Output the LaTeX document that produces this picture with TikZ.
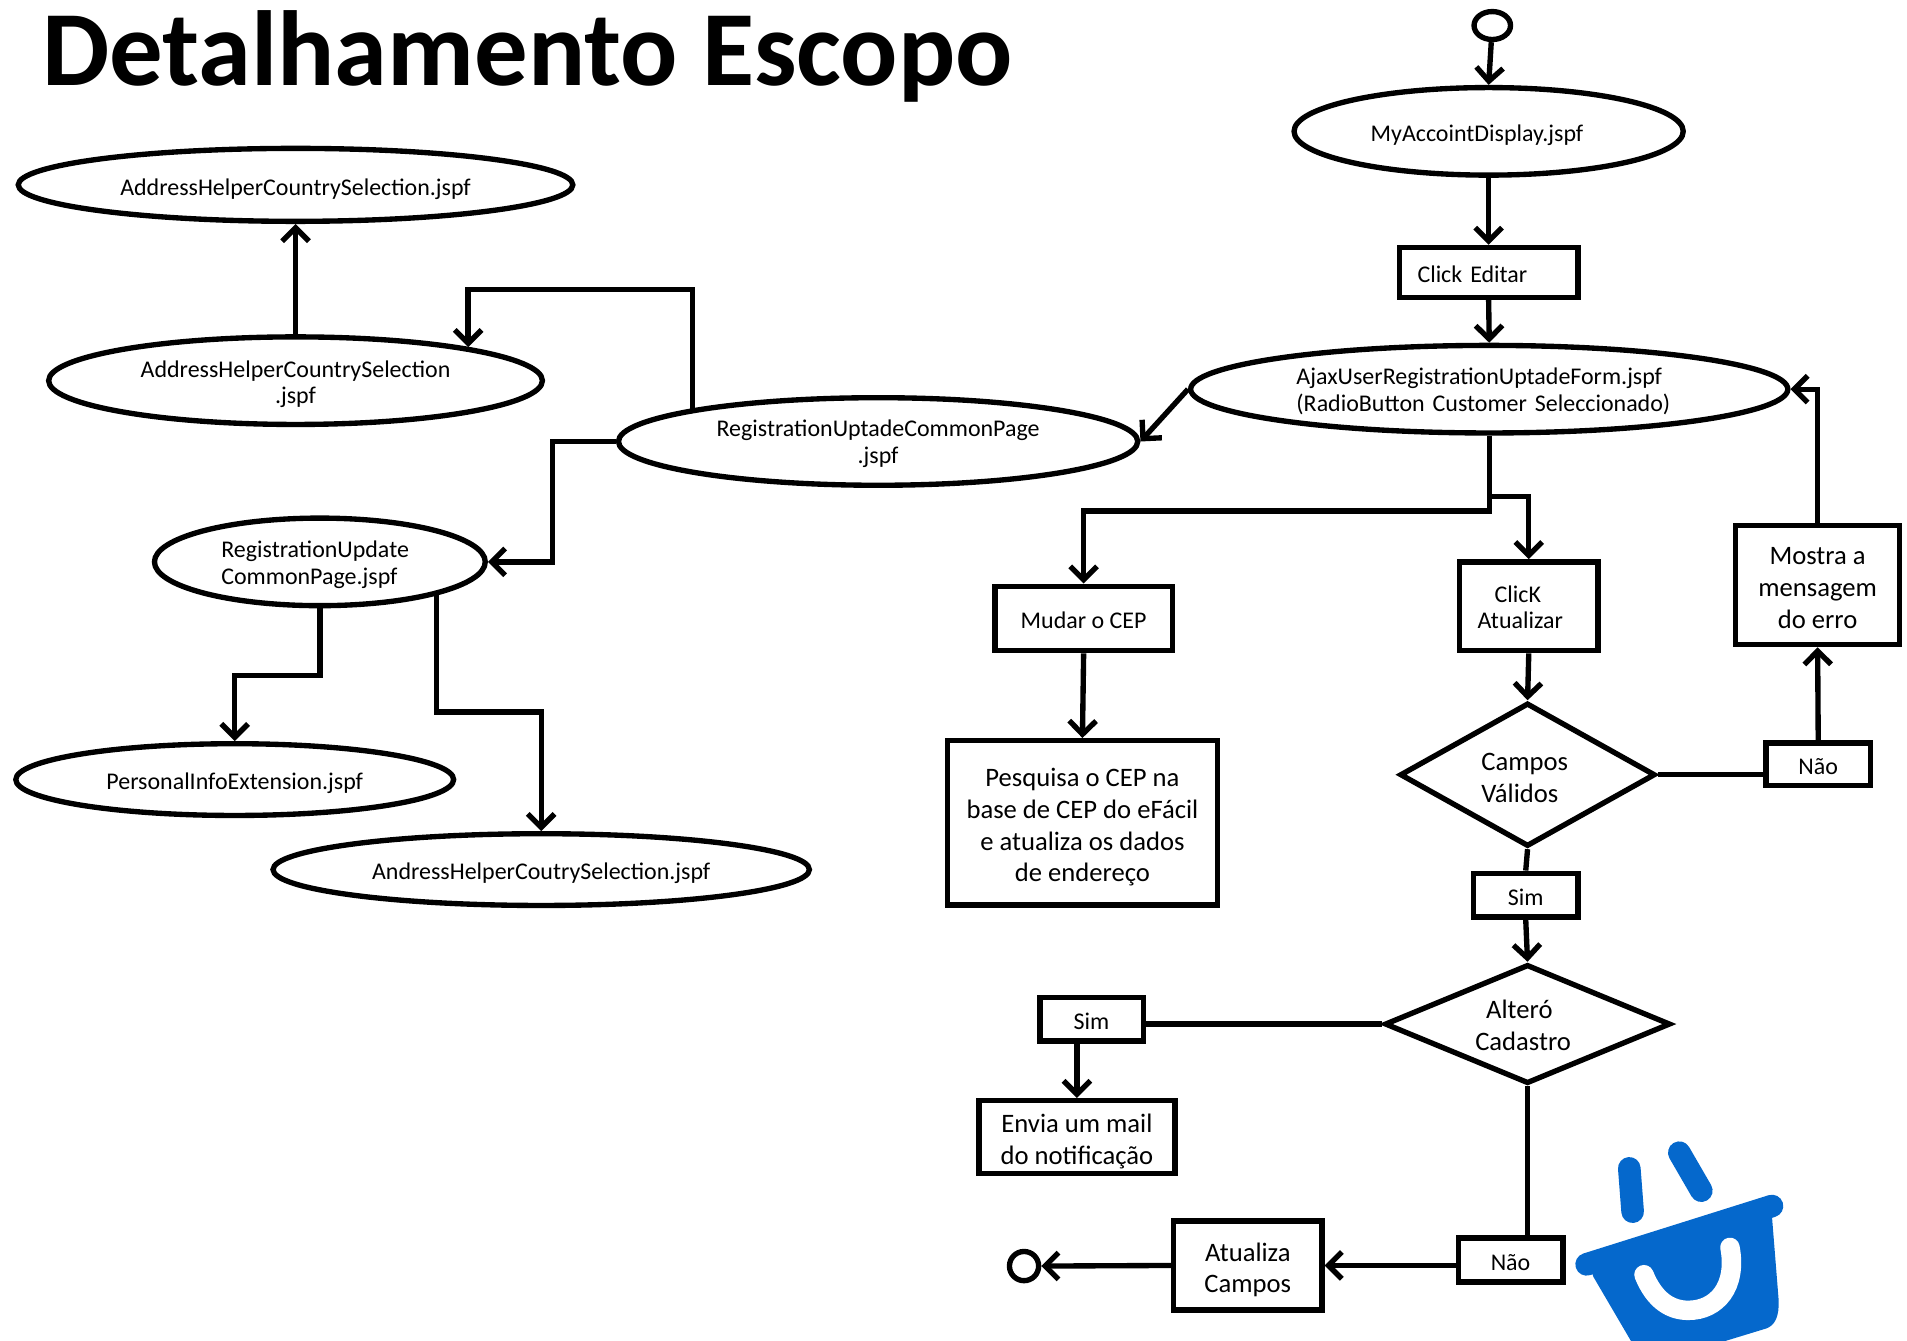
\documentclass[tikz,border=0pt]{standalone}
\usepackage{fontspec}
\setmainfont{Carlito}
\usepackage{xcolor}
\usepackage{tikz}
\usetikzlibrary{shapes.geometric, arrows.meta}
\definecolor{azullogo}{HTML}{0568CC}

\begin{document}
\begin{tikzpicture}[
    x=1pt, y=-1pt,
    every node/.style={inner sep=0pt, line width=4.4pt, text=black},
    fonteA/.style={font=\fontsize{19.7}{22}\selectfont, text depth=0pt, text height=17pt},
    fonteB/.style={font=\fontsize{21.9}{26}\selectfont, text depth=0pt, text height=16pt}
]
\tikzset{
    elipse/.style={draw, ellipse, fonteA, align=center},
    caixa/.style={draw, rectangle, fonteA, align=center},
    losango/.style={draw, diamond, fonteB, align=left},
    inicio/.style={draw, circle, minimum size=#1},
    seta/.style={line width=4.4pt, -{Straight Barb[length=11pt, width=22pt, line width=4.4pt]}},
    linha/.style={line width=4.4pt}
}
\useasboundingbox (0,0) rectangle (1568,1102);

\node[anchor=west, font=\fontsize{87.8}{100}\selectfont\bfseries] (titulo) at (32.5,46) {Detalhamento Escopo};

\node[draw, ellipse, minimum width=30pt, minimum height=23pt] (inicioFluxo) at (1227,21) {};
\node[inicio=24pt] (fimFluxo) at (842,1041) {};

\node[elipse, minimum width=456pt, minimum height=60pt] (addrTopo) at (243,152) {AddressHelperCountrySelection.jspf};
\node[elipse, minimum width=406pt, minimum height=72pt, text height=38pt] (addrMeio) at (243,313) {AddressHelperCountrySelection\\.jspf};
\node[elipse, minimum width=427pt, minimum height=72pt, text height=36pt] (regCommon) at (722,363) {RegistrationUptadeCommonPage\\.jspf};
\node[elipse, minimum width=272pt, minimum height=72pt, align=left, text width=162pt, text height=15pt, text depth=22pt] (regUpdate) at (263,462) {RegistrationUpdate\\CommonPage.jspf};
\node[elipse, minimum width=360pt, minimum height=59pt] (personal) at (193,641) {PersonalInfoExtension.jspf};
\node[elipse, minimum width=441pt, minimum height=59pt] (andress) at (445,715) {AndressHelperCoutrySelection.jspf};
\node[elipse, minimum width=320pt, minimum height=72pt, align=left, text width=194pt] (myAccoint) at (1224,108) {MyAccointDisplay.jspf};
\node[elipse, minimum width=491pt, minimum height=72pt, align=left, text width=317pt, text height=15pt, text depth=23pt] (ajax) at (1224.5,320) {AjaxUserRegistrationUptadeForm.jspf\\(RadioButton Customer Seleccionado)};

\node[caixa, minimum width=147pt, minimum height=41pt, align=left, text width=117pt, inner xsep=15pt] (clickEditar) at (1224,224) {Click Editar};
\node[caixa, minimum width=114pt, minimum height=73pt, align=left, text width=84pt, text height=15pt, text depth=22pt] (clickAtualizar) at (1257,498.5) {\hspace*{14pt}ClicK\\Atualizar};
\node[caixa, minimum width=146pt, minimum height=53pt] (mudarCep) at (891,508.5) {Mudar o CEP};
\node[caixa, fonteB, minimum width=222pt, minimum height=135pt, text height=97pt] (pesquisa) at (890,676.5) {Pesquisa o CEP na\\base de CEP do eFácil\\e atualiza os dados\\de endereço};
\node[caixa, fonteB, minimum width=135pt, minimum height=98pt, text height=71pt] (mostra) at (1494.5,481) {Mostra a\\mensagem\\do erro};
\node[caixa, minimum width=86pt, minimum height=35pt] (naoErro) at (1495,628.5) {Não};
\node[caixa, minimum width=86pt, minimum height=36pt] (simValido) at (1254.5,736) {Sim};
\node[caixa, minimum width=85pt, minimum height=36pt] (simMudou) at (897.5,838) {Sim};
\node[caixa, fonteB, minimum width=161pt, minimum height=60pt, text height=45pt] (envia) at (885.5,935) {Envia um mail\\do notificação};
\node[caixa, minimum width=86pt, minimum height=36pt] (naoMudou) at (1242,1036) {Não};
\node[caixa, fonteB, minimum width=122pt, minimum height=73pt, text height=45pt] (atualiza) at (1026,1040.5) {Atualiza\\Campos};

\node[losango, minimum width=210pt, minimum height=118pt, aspect=1.8, text width=76pt, text depth=23pt] (campos) at (1256,637) {Campos\\Válidos};
\node[losango, minimum width=235pt, minimum height=98pt, aspect=2.4, text width=86pt, text depth=25pt] (altero) at (1256,842) {\hspace*{9pt}Alteró\\Cadastro};

\draw[seta] (inicioFluxo) -- (myAccoint.north);
\draw[seta] (myAccoint.south) -- (clickEditar.north);
\draw[seta] (clickEditar.south) -- (ajax.north);
\draw[seta] (ajax.west) -- (regCommon.east);
\draw[seta] (regCommon.170) -- ++(0,-98) -| (addrMeio.11);
\draw[seta] (addrMeio.north) -- (addrTopo.south);
\draw[seta] (regCommon.west) -- ++(-52,0) |- (regUpdate.east);
\draw[seta] (regUpdate.south) -- ++(0,55) -| (personal.north);
\draw[seta] (regUpdate.344.5) -- ++(0,96) -| (andress.north);
\draw[seta] (ajax.south) -- ++(0,62) -| (mudarCep.north);
\coordinate (desvioAjax) at (1224.5,408);
\draw[seta] (desvioAjax) -| (clickAtualizar.north);
\draw[seta] (mudarCep.south) -- (pesquisa.north);
\draw[seta] (clickAtualizar.south) -- (campos.north);
\draw[linha] (campos.east) -- (naoErro.west |- campos.east);
\draw[seta] (naoErro.north) -- (mostra.south);
\draw[seta] (mostra.north) |- (ajax.east);
\draw[linha] (campos.south) -- (simValido.north);
\draw[seta] (simValido.south) -- (altero.north);
\draw[linha] (altero.west) -- (simMudou.east |- altero.west);
\draw[seta] (simMudou.south -| envia.north) -- (envia.north);
\draw[linha] (altero.south) -- (naoMudou.north -| altero.south);
\draw[seta] (naoMudou.west |- atualiza.east) -- (atualiza.east);
\draw[seta] (atualiza.west) -- (fimFluxo.east);

\begin{scope}[shift={(1266.2,920.9)}, x=0.2741pt, y=-0.2741pt]
\draw[azullogo, line width=18.6pt, line cap=round] (268,145) -- (278,275);
\draw[azullogo, line width=18.6pt, line cap=round] (418,98) -- (484,212);
\fill[azullogo] (140,400) -- (696,225) -- (696,290) -- (716,540) .. controls (718,590) and (705,615) .. (680,625) -- (500,680) -- (283,680) -- (160,470) -- cycle;
\draw[azullogo, line width=18.6pt, line cap=round] (140,433) -- (696,258);
\draw[white, line width=16pt, line cap=round] (312,464) .. controls (345,545) and (395,571) .. (445,571) .. controls (530,571) and (592,500) .. (570,382);
\end{scope}
\end{tikzpicture}
\end{document}
